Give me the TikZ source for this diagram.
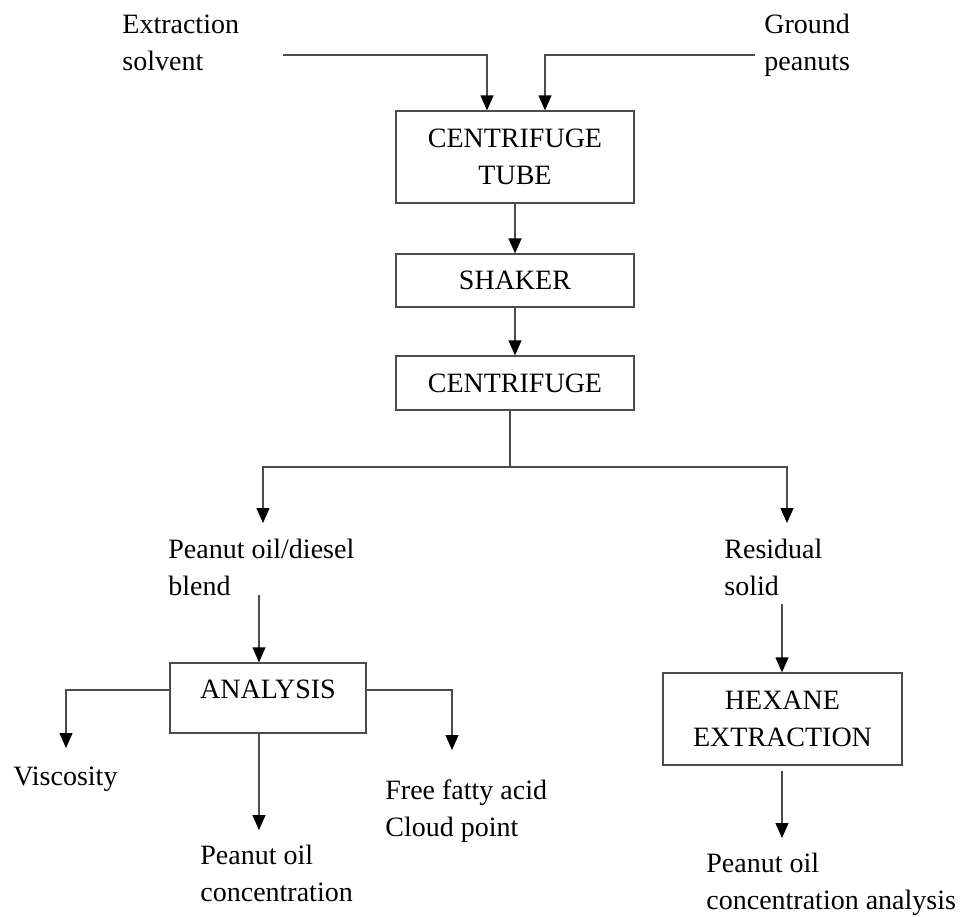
\documentclass[tikz,border=0pt]{standalone}
\usepackage{fontspec}
\setmainfont{Liberation Serif}
\usetikzlibrary{arrows.meta}
\begin{document}
\begin{tikzpicture}[x=0.5pt,y=-0.5pt,
  ln/.style={draw=black!70, line width=0.65pt},
  arr/.style={ln, -{Triangle[length=7.5pt,width=6.5pt,color=black]}},
  box/.style={draw=black!70, line width=0.65pt, inner sep=0pt, minimum width=119pt, align=center, font=\fontsize{14}{18.5}\selectfont},
  lbl/.style={inner sep=0pt, align=left, anchor=base west, font=\fontsize{14}{18.5}\selectfont}]
\useasboundingbox (0,0) rectangle (960,917);
% boxes
\node[box, minimum height=46pt] (tube) at (515,157) {CENTRIFUGE\\TUBE};
\node[box, minimum height=26.5pt] (shaker) at (515,280.5) {SHAKER};
\node[box, minimum height=27pt] (cent) at (515,383) {CENTRIFUGE};
\node[box, minimum width=98pt, text height=17.75pt, text depth=17.25pt] (ana) at (268,698) {ANALYSIS};
\node[box, minimum width=119.5pt, minimum height=46pt] (hex) at (782.5,719) {HEXANE\\EXTRACTION};
% labels (base = baseline of last line)
\node[lbl] (solv) at (122,70) {Extraction\\solvent};
\node[lbl] (gp) at (764,70) {Ground\\peanuts};
\node[lbl] (blend) at (168,595) {Peanut oil/diesel\\blend};
\node[lbl] (res) at (724,595) {Residual\\solid};
\node[lbl] (visc) at (13,785) {Viscosity};
\node[lbl] (ffa) at (385,836) {Free fatty acid\\Cloud point};
\node[lbl] (poc) at (200,901) {Peanut oil\\concentration};
\node[lbl] (poca) at (706,909) {Peanut oil\\concentration analysis};
% coordinates
\coordinate (s1) at (283,55);
\coordinate (s2) at (755,55);
\coordinate (split) at (510,467);
\coordinate (a1) at (263,523);
\coordinate (a2) at (787,523);
\coordinate (b1) at (259,595);
\coordinate (c1) at (782,604);
\coordinate (v) at (66,748);
\coordinate (f) at (452,750);
\coordinate (p) at (259,830);
\coordinate (q) at (782,838);
% connectors
\draw[arr] (s1) -| ([xshift=-14pt]tube.north);
\draw[arr] (s2) -| ([xshift=15pt]tube.north);
\draw[arr] (tube) -- (shaker);
\draw[arr] (shaker) -- (cent);
\draw[ln] ([xshift=-2.5pt]cent.south) -- (split);
\draw[arr] (split) -| (a1);
\draw[arr] (split) -| (a2);
\draw[arr] (b1) -- (b1 |- ana.north);
\draw[arr] (c1) -- (c1 |- hex.north);
\draw[arr] ([yshift=4pt]ana.west) -| (v);
\draw[arr] ([yshift=4pt]ana.east) -| (f);
\draw[arr] (p |- ana.south) -- (p);
\draw[arr, shorten <=2.5pt] (q |- hex.south) -- (q);
\end{tikzpicture}
\end{document}
